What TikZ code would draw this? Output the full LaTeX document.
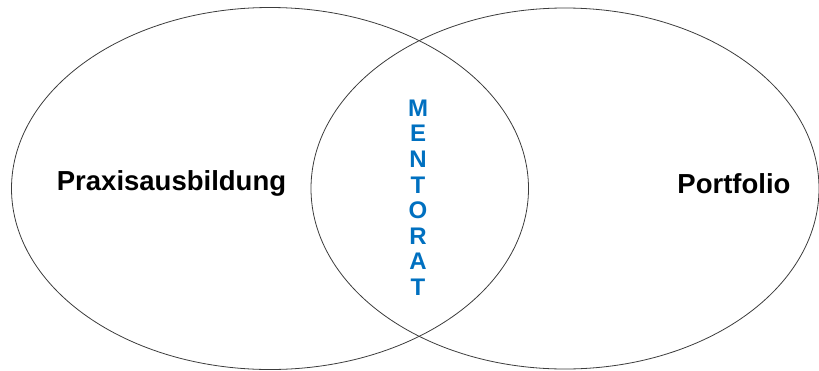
\documentclass[tikz,border=0pt]{standalone}
\usepackage{fontspec}
\setmainfont{Liberation Sans}
\definecolor{mentblue}{RGB}{0,112,192}
\definecolor{ringgray}{RGB}{60,60,60}
\tikzset{
  ring/.style={draw=ringgray, line width=0.8pt},
  biglabel/.style={font=\fontsize{27.5}{32}\selectfont\bfseries, text=black, inner sep=0pt},
  letter/.style={font=\fontsize{24}{28}\selectfont\bfseries, text=mentblue, inner sep=0pt}
}
\begin{document}
\begin{tikzpicture}[x=1pt,y=-1pt]
\useasboundingbox (0,0) rectangle (819,370);
\draw[ring] (270,188.5) ellipse [x radius=258.5, y radius=181];
\draw[ring] (565,188.5) ellipse [x radius=254, y radius=180.5];
\node[biglabel] (praxis) at (171.5,183) {Praxisausbildung};
\node[biglabel] (portfolio) at (734,184) {Portfolio};
\foreach \c [count=\i] in {M,E,N,T,O,R,A,T} {
  \node[letter] (m\i) at (418,{108+(\i-1)*25.6}) {\c};
}
\end{tikzpicture}
\end{document}
